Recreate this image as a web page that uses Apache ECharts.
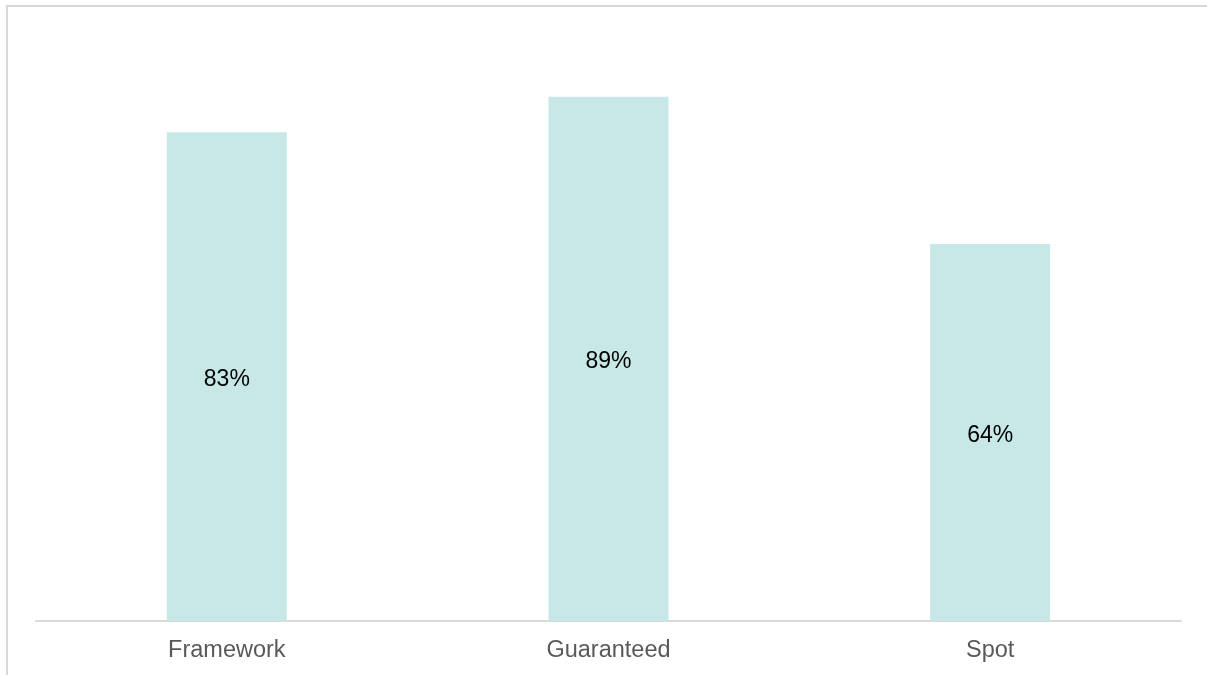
<!DOCTYPE html>
<html>
<head>
<meta charset="utf-8">
<style>
  html, body { margin: 0; padding: 0; background: #ffffff; }
  #chart { width: 1207px; height: 675px; }
</style>
<script src="https://cdn.jsdelivr.net/npm/echarts@6/dist/echarts.min.js"></script>
</head>
<body>
<div id="chart"></div>
<script>
// Share of contracts by type (percent)
const categories = ['Framework', 'Guaranteed', 'Spot'];
const shares = [83, 89, 64];

const chart = echarts.init(document.getElementById('chart'), null, { renderer: 'canvas' });

chart.setOption({
  animation: false,
  backgroundColor: '#ffffff',
  graphic: [
    // frame edges along the top and left of the panel
    { type: 'line', shape: { x1: 6, y1: 6, x2: 1207, y2: 6 }, style: { stroke: '#d9d9d9', lineWidth: 2 } },
    { type: 'line', shape: { x1: 7, y1: 5, x2: 7, y2: 675 }, style: { stroke: '#d9d9d9', lineWidth: 2 } }
  ],
  grid: { left: 36, right: 26, top: 32, bottom: 54 },
  xAxis: {
    type: 'category',
    data: categories,
    axisLine: { lineStyle: { color: '#d9d9d9', width: 2 } },
    axisTick: { show: false },
    axisLabel: {
      color: '#595959',
      fontFamily: 'Liberation Sans, Arial, sans-serif',
      fontSize: 23.5,
      margin: 18
    }
  },
  yAxis: {
    type: 'value',
    min: 0,
    max: 100,
    show: false,
    splitLine: { show: false }
  },
  series: [{
    type: 'bar',
    data: shares,
    barWidth: 120,
    itemStyle: { color: '#c7e8e7' },
    label: {
      show: true,
      position: 'inside',
      formatter: p => p.value + '%',
      color: '#000000',
      fontFamily: 'Liberation Sans, Arial, sans-serif',
      fontSize: 23,
      offset: [0, 3]
    }
  }]
});
</script>
</body>
</html>
